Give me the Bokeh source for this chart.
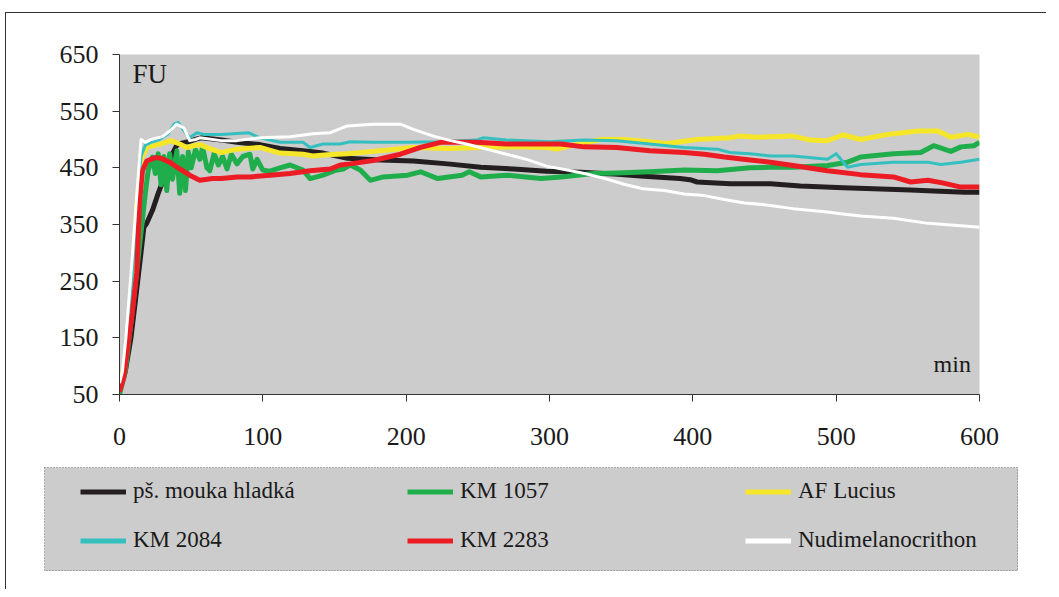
from bokeh.plotting import figure
from bokeh.layouts import column, row
from bokeh.models import Legend, LegendItem, Label, FixedTicker, Range1d
from bokeh.embed import file_html
from bokeh.resources import INLINE

FONT = "Liberation Serif"

# ---------------- data ----------------
x_ticks = [0, 100, 200, 300, 400, 500, 600]
y_ticks = [50, 150, 250, 350, 450, 550, 650]

names = ["pš. mouka hladká", "KM 1057", "AF Lucius", "KM 2084", "KM 2283", "Nudimelanocrithon"]

t_black = [0, 4, 8, 12, 15, 17, 19, 23, 27, 33, 37, 40, 44, 48, 54, 57, 65, 71, 82, 98, 112, 128, 142, 159,
           182, 205, 229, 252, 275, 298, 322, 338, 345, 366, 391, 398, 403, 426, 454, 475, 505, 552, 568, 590, 600]
v_black = [62, 90, 150, 235, 300, 345, 352, 375, 405, 445, 475, 490, 494, 496, 501, 503, 501, 499, 495, 491, 484,
           480, 476, 467, 464, 462, 457, 451, 448, 444, 442, 440, 439, 435, 431, 429, 425, 422, 422, 418, 415, 411,
           409, 407, 407]

t_green = [0, 4, 9, 13, 16, 18, 20, 23, 25, 27, 29, 31, 33, 35, 37, 40, 42, 44, 46, 48, 50, 53, 56, 58, 61, 63,
           66, 69, 72, 75, 78, 82, 86, 91, 93, 96, 100, 105, 112, 119, 128, 133, 142, 150, 156, 161, 168, 175, 184,
           201, 210, 222, 239, 244, 252, 270, 294, 308, 331, 347, 370, 394, 417, 440, 454, 470, 494, 508, 517, 540,
           559, 568, 580, 587, 596, 600]
v_green = [50, 90, 200, 290, 358, 405, 445, 469, 440, 475, 420, 470, 410, 475, 430, 480, 405, 470, 410, 478, 450,
           482, 465, 486, 450, 445, 475, 455, 470, 448, 474, 457, 470, 474, 448, 465, 446, 444, 450, 455, 446, 431,
           437, 445, 448, 455, 446, 428, 434, 437, 443, 431, 437, 443, 434, 437, 431, 434, 440, 441, 443, 446, 445,
           450, 451, 451, 454, 460, 469, 475, 477, 489, 479, 487, 489, 495]

t_yellow = [0, 3, 6, 9, 12, 15, 19, 25, 30, 36, 42, 47, 52, 56, 63, 71, 82, 98, 112, 128, 135, 145, 159, 182, 205,
            229, 252, 275, 298, 305, 320, 336, 352, 370, 382, 403, 426, 432, 445, 470, 482, 494, 505, 517, 536, 557,
            571, 580, 592, 600]
v_yellow = [66, 95, 150, 260, 380, 465, 486, 490, 493, 498, 492, 486, 489, 491, 484, 477, 483, 486, 476, 474, 471,
            473, 475, 480, 486, 484, 486, 487, 486, 483, 492, 500, 500, 496, 493, 500, 503, 506, 504, 506, 499, 498,
            508, 500, 509, 515, 515, 504, 509, 504]

t_cyan = [0, 3, 6, 9, 12, 15, 18, 22, 28, 34, 38, 41, 45, 49, 54, 59, 71, 90, 98, 112, 128, 133, 142, 154, 161, 177,
          201, 224, 249, 254, 270, 300, 324, 347, 370, 394, 417, 426, 440, 454, 470, 494, 500, 508, 517, 540, 564,
          573, 587, 600]
v_cyan = [60, 90, 150, 260, 380, 470, 490, 495, 500, 510, 527, 530, 515, 503, 512, 509, 509, 512, 503, 495, 495,
          486, 492, 492, 496, 495, 495, 496, 499, 503, 499, 496, 499, 498, 492, 486, 483, 477, 475, 471, 471, 465,
          475, 451, 456, 460, 460, 456, 460, 465]

t_red = [0, 3, 6, 9, 12, 14, 16, 19, 25, 29, 35, 42, 49, 56, 65, 71, 82, 91, 105, 119, 133, 147, 154, 161, 177, 196,
         210, 224, 249, 270, 294, 308, 324, 347, 370, 394, 408, 422, 440, 454, 470, 494, 517, 540, 552, 564, 575,
         587, 600]
v_red = [55, 80, 140, 195, 265, 390, 445, 462, 468, 467, 460, 448, 437, 428, 431, 431, 434, 434, 437, 440, 445,
         448, 455, 457, 463, 474, 486, 495, 495, 492, 492, 492, 487, 486, 480, 477, 474, 469, 464, 460, 454, 445,
         438, 434, 425, 428, 423, 416, 416]

t_white = [0, 2, 4.4, 9, 12, 15, 18, 22, 30, 35, 40, 45, 49, 53, 56, 71, 82, 98, 119, 135, 147, 159, 177, 196, 205,
           219, 231, 242, 256, 270, 284, 298, 315, 326, 340, 352, 365, 380, 394, 408, 422, 436, 450, 470, 494, 503,
           517, 540, 564, 587, 600]
v_white = [70, 90, 148, 295, 400, 500, 495, 500, 505, 515, 527, 520, 498, 500, 503, 498, 498, 503, 505, 510, 512,
           524, 527, 527, 518, 506, 498, 492, 483, 474, 465, 453, 445, 439, 430, 421, 413, 410, 404, 401, 394, 388,
           385, 378, 372, 369, 365, 361, 352, 348, 345]

colors = ["#231f20", "#1fae4b", "#f6e62a", "#35c0c0", "#ec1c24", "#ffffff"]
widths = [5, 5, 5, 3, 5, 3]
series_t = [t_black, t_green, t_yellow, t_cyan, t_red, t_white]
series_v = [v_black, v_green, v_yellow, v_cyan, v_red, v_white]

# ---------------- chart figure ----------------
p = figure(width=1040, height=442, output_backend="svg", toolbar_location=None,
           x_range=Range1d(0, 600), y_range=Range1d(50, 650),
           min_border_left=113, min_border_top=41, min_border_right=67, min_border_bottom=61)
p.background_fill_color = "#cccccc"
p.border_fill_color = "white"
p.outline_line_color = None
p.xgrid.visible = False
p.ygrid.visible = False

for ax, ticks in ((p.xaxis, x_ticks), (p.yaxis, y_ticks)):
    ax.ticker = FixedTicker(ticks=ticks)
    ax.axis_line_color = "#333333"
    ax.major_tick_line_color = "#333333"
    ax.minor_tick_line_color = None
    ax.major_tick_in = 0
    ax.major_tick_out = 7
    ax.major_label_text_font = FONT
    ax.major_label_text_font_size = "26px"
    ax.major_label_text_color = "#1a1a1a"
p.yaxis.major_label_standoff = 14
p.xaxis.major_label_standoff = 26

for t, v, c, w in zip(series_t, series_v, colors, widths):
    p.line(t, v, line_color=c, line_width=w, line_join="round")

p.add_layout(Label(x=9, y=616, text="FU", text_font=FONT, text_font_size="27px",
                   text_color="#1a1a1a", text_baseline="alphabetic"))
p.add_layout(Label(x=594, y=103, text="min", text_font=FONT, text_font_size="24px",
                   text_color="#1a1a1a", text_align="right", text_baseline="alphabetic"))

# ---------------- legend panel (its frame is the grey legend box) ----------------
q = figure(width=974, height=104, output_backend="svg", toolbar_location=None,
           x_range=Range1d(0, 1), y_range=Range1d(1000, 1001),
           min_border_left=0, min_border_top=0, min_border_right=0, min_border_bottom=0,
           margin=(12, 28, 18, 38))
q.axis.visible = False
q.xgrid.visible = False
q.ygrid.visible = False
q.background_fill_color = "#cccccc"
q.border_fill_color = "white"
q.outline_line_color = "#777777"
q.outline_line_width = 1
q.outline_line_dash = "1 2"

# same series drawn into the legend panel only to give the legend its glyphs (out of its range)
legend_renderers = []
for t, v, c, w in zip(series_t, series_v, colors, widths):
    legend_renderers.append(q.line(t, v, line_color=c, line_width=max(w, 5)))

for a, b, vx in ((0, 3, 36), (1, 4, 363), (2, 5, 701)):
    lg = Legend(items=[LegendItem(label=names[a], renderers=[legend_renderers[a]]),
                       LegendItem(label=names[b], renderers=[legend_renderers[b]])],
                location=(vx, 18), padding=0, margin=0, spacing=23,
                glyph_width=46, glyph_height=25, label_height=25, label_standoff=7,
                label_text_font=FONT, label_text_font_size="23px", label_text_color="#1a1a1a",
                background_fill_alpha=0, border_line_alpha=0)
    q.add_layout(lg, "center")

layout = column(p, row(q), spacing=0, margin=(12, 0, 0, 5))
layout.styles = {"border-top": "1px solid #333333", "border-left": "1px solid #333333"}

open("out.html", "w").write(file_html(layout, INLINE))
